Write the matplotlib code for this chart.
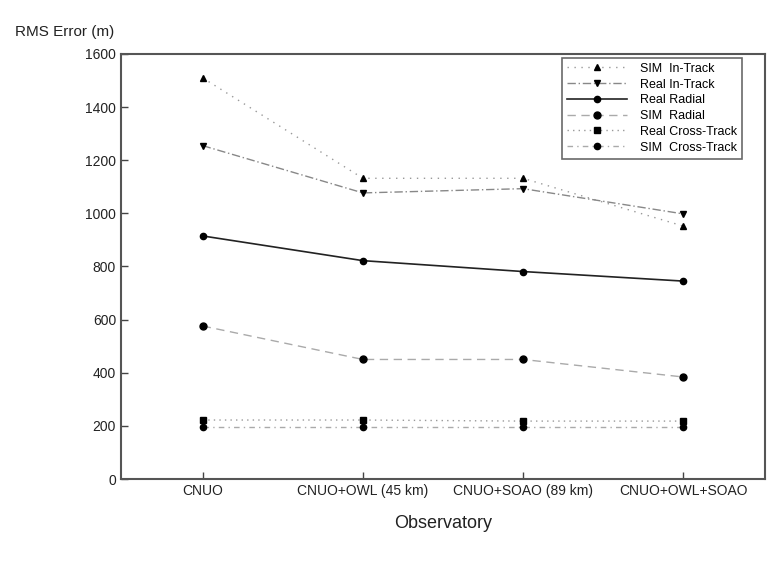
import matplotlib
matplotlib.use("Agg")
import matplotlib.pyplot as plt

plt.rcParams['font.family'] = ['Liberation Sans', 'DejaVu Sans']

categories = ["CNUO", "CNUO+OWL (45 km)", "CNUO+SOAO (89 km)", "CNUO+OWL+SOAO"]
sim_in_track = [1510, 1132, 1132, 952]
real_in_track = [1255, 1077, 1093, 998]
real_radial = [915, 822, 781, 745]
sim_radial = [576, 450, 450, 384]
real_cross_track = [222, 222, 218, 218]
sim_cross_track = [196, 196, 196, 196]
y_ticks = [0, 200, 400, 600, 800, 1000, 1200, 1400, 1600]

fig = plt.figure(figsize=(7.83, 5.67), dpi=100)
ax = fig.add_axes([0.1545, 0.1552, 0.8225, 0.7496])
x = list(range(1, len(categories) + 1))

ax.plot(x, sim_in_track, linestyle=(0, (1, 4)), color='#999999', lw=1.0,
        marker='^', ms=5, mfc='black', mec='black', label='SIM  In-Track')
ax.plot(x, real_in_track, linestyle=(0, (6, 2, 1, 2)), color='#888888', lw=1.0,
        marker='v', ms=5, mfc='black', mec='black', label='Real In-Track')
ax.plot(x, real_radial, linestyle='-', color='#222222', lw=1.2,
        marker='o', ms=4.5, mfc='black', mec='black', label='Real Radial')
ax.plot(x, sim_radial, linestyle=(0, (6, 4)), color='#aaaaaa', lw=1.0,
        marker='o', ms=5, mfc='black', mec='black', label='SIM  Radial')
ax.plot(x, real_cross_track, linestyle=(0, (1, 3)), color='#999999', lw=1.0,
        marker='s', ms=5, mfc='black', mec='black', label='Real Cross-Track')
ax.plot(x, sim_cross_track, linestyle=(0, (4, 3, 1, 3)), color='#aaaaaa', lw=1.0,
        marker='o', ms=4.5, mfc='black', mec='black', label='SIM  Cross-Track')

ax.set_xlim(0.49, 4.51)
ax.set_ylim(0, 1600)
ax.set_yticks(y_ticks)
ax.set_yticklabels([str(v) for v in y_ticks], fontsize=10)
ax.set_xticks(x)
ax.set_xticklabels(categories, fontsize=10)
ax.tick_params(direction='in', length=5, width=1, colors='#444444', labelcolor='#222222')
for s in ax.spines.values():
    s.set_color('#555555')
    s.set_linewidth(1.5)

ax.set_xlabel('Observatory', fontsize=13, color='#222222', labelpad=12)
fig.text(15 / 783, 1 - 32 / 567, 'RMS Error (m)', fontsize=11, color='#222222',
         ha='left', va='center')

leg = ax.legend(loc='upper right', bbox_to_anchor=(0.968, 0.997), fontsize=9,
                frameon=True, fancybox=False, edgecolor='#444444',
                handlelength=4.8, labelspacing=0.3, borderpad=0.4,
                handletextpad=1.0, borderaxespad=0.2)
leg.get_frame().set_linewidth(1.2)

fig.savefig('out.png', dpi=100)
